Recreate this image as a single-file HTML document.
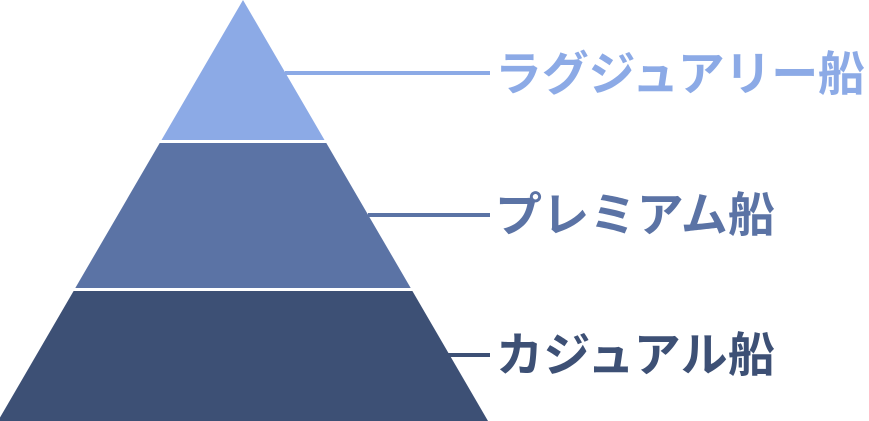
<!DOCTYPE html>
<html><head><meta charset="utf-8"><style>
html,body{margin:0;padding:0;background:#fff;width:869px;height:421px;overflow:hidden}
text{font-family:"Liberation Sans","Noto Sans CJK JP",sans-serif;font-weight:bold;font-size:47px}
</style></head><body>
<svg width="869" height="421" viewBox="0 0 869 421" xmlns="http://www.w3.org/2000/svg">
<polygon points="243,0 324.5,140 161.5,140" fill="#8caae6"/>
<polygon points="159.7,143 326.3,143 410.7,288 75.3,288" fill="#5b73a5"/>
<polygon points="73.6,291 412.4,291 488,421 -2,421" fill="#3d5075"/>
<rect x="285" y="71" width="205" height="4" fill="#8caae6"/>
<rect x="368" y="213" width="122" height="4" fill="#5b73a5"/>
<rect x="446" y="353" width="44" height="4" fill="#3d5075"/>
<text x="495" y="74" dominant-baseline="central" fill="#8caae6" textLength="370" lengthAdjust="spacing">ラグジュアリー船</text>
<text x="495" y="215" dominant-baseline="central" fill="#5b73a5" textLength="280" lengthAdjust="spacing">プレミアム船</text>
<text x="496" y="355" dominant-baseline="central" fill="#3d5075" textLength="279" lengthAdjust="spacing">カジュアル船</text>
</svg>
</body></html>
